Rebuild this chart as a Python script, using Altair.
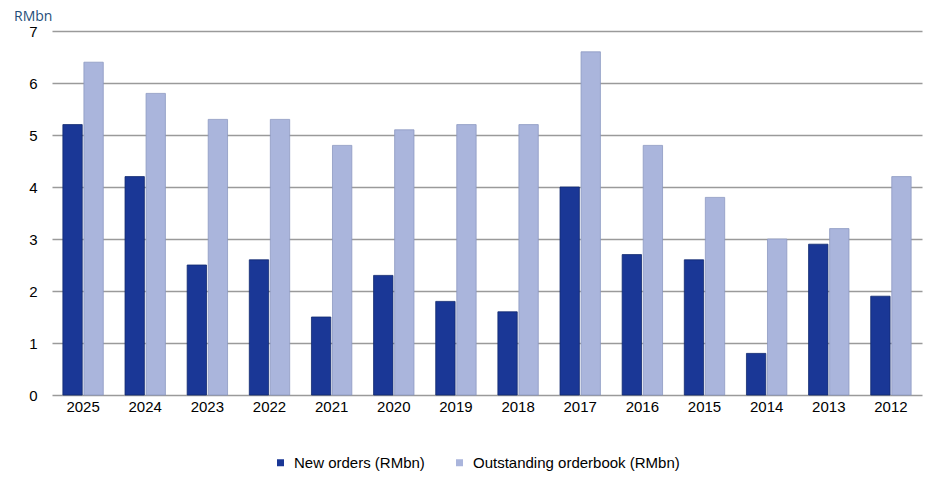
import altair as alt
import pandas as pd

years = ["2025", "2024", "2023", "2022", "2021", "2020", "2019", "2018", "2017", "2016", "2015", "2014", "2013", "2012"]
new_orders = [5.2, 4.2, 2.5, 2.6, 1.5, 2.3, 1.8, 1.6, 4.0, 2.7, 2.6, 0.8, 2.9, 1.9]
outstanding = [6.4, 5.8, 5.3, 5.3, 4.8, 5.1, 5.2, 5.2, 6.6, 4.8, 3.8, 3.0, 3.2, 4.2]
series = ["New orders (RMbn)", "Outstanding orderbook (RMbn)"]
colors = ["#1a3796", "#aab5dc"]
strokes = ["#10286e", "#8d99c2"]

rows = []
for y, a, b in zip(years, new_orders, outstanding):
    rows.append({"year": y, "series": series[0], "value": a})
    rows.append({"year": y, "series": series[1], "value": b})
df = pd.DataFrame(rows)

FONT = "Liberation Sans"

chart = alt.Chart(df).mark_bar(strokeWidth=0.8).encode(
    x=alt.X("year:N", sort=years,
            scale=alt.Scale(paddingInner=0.35, paddingOuter=0.175),
            axis=alt.Axis(title=None, labelAngle=0, ticks=False, domain=False,
                          labelFontSize=15, labelColor="#000000", labelPadding=4,
                          labelFont=FONT)),
    xOffset=alt.XOffset("series:N", sort=series, scale=alt.Scale(paddingInner=0.08)),
    y=alt.Y("value:Q", scale=alt.Scale(domain=[0, 7], nice=False),
            axis=alt.Axis(title=None, values=[0, 1, 2, 3, 4, 5, 6, 7], ticks=False,
                          domain=False, grid=True, gridColor="#9a9a9a", gridWidth=1.5,
                          labelFontSize=15, labelColor="#000000", labelPadding=15,
                          labelFont=FONT)),
    color=alt.Color("series:N", sort=series,
                    scale=alt.Scale(domain=series, range=colors),
                    legend=alt.Legend(title=None, orient="none", legendX=221, legendY=424,
                                      direction="horizontal", symbolType="square",
                                      symbolSize=49, symbolStrokeWidth=0,
                                      labelFontSize=15, labelColor="#000000",
                                      labelLimit=0, labelOffset=6,
                                      labelFont=FONT, columnPadding=27, padding=0)),
    stroke=alt.Stroke("series:N", sort=series,
                      scale=alt.Scale(domain=series, range=strokes), legend=None),
).properties(
    width=870,
    height=364,
    autosize=alt.AutoSizeParams(type="none"),
    padding={"left": 44, "top": 23, "right": 12, "bottom": 76},
    title=alt.Title("RMbn", anchor="start", frame="group", dx=-38, fontSize=14,
                    fontWeight="normal", color="#1f4e79", font="Open Sans", offset=0),
).configure_view(stroke=None).configure_axisX(grid=False)

chart.save("out.html", embed_options={"renderer": "svg", "actions": False})
